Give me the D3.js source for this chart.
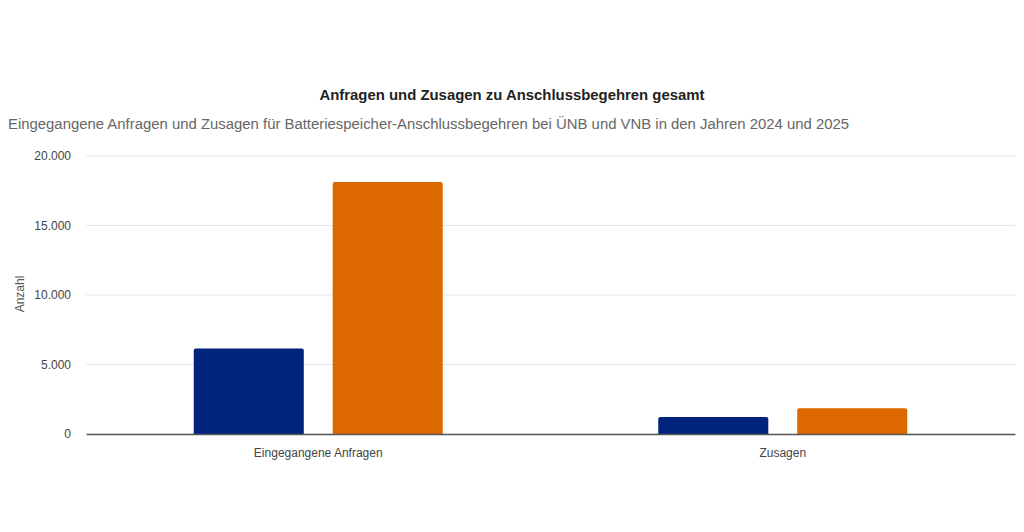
<!doctype html>
<html>
<head>
    <meta charset="UTF-8">
    <title>Anschlussbegehren</title>
    <script src="https://d3js.org/d3.v7.min.js"></script>
    <style>
        body{ margin:0; background:#fff; }
        text{ font-family: Arial, "Liberation Sans", sans-serif; }
    </style>
</head>
<body>
    <div id="chart"></div>

    <script>
        var categories = ["Eingegangene Anfragen", "Zusagen"];
        var years = ["2024", "2025"];
        var values2024 = [6150, 1220];
        var values2025 = [18130, 1850];
        var yTicks = [0, 5000, 10000, 15000, 20000];
        var colors = ["#00247d", "#de6800"];

        var w = 1024, h = 532;
        var m = {left: 86, right: 9, top: 156, bottom: 98};

        var svg = d3.select("#chart").append("svg")
            .attr("width", w)
            .attr("height", h);

        // titles
        svg.append("text")
           .attr("x", 512).attr("y", 100)
           .attr("text-anchor", "middle")
           .style("font-size", "14.9px")
           .style("font-weight", "bold")
           .attr("fill", "#222")
           .text("Anfragen und Zusagen zu Anschlussbegehren gesamt");

        svg.append("text")
           .attr("x", 8).attr("y", 129)
           .style("font-size", "14.9px")
           .attr("fill", "#666")
           .text("Eingegangene Anfragen und Zusagen für Batteriespeicher-Anschlussbegehren bei ÜNB und VNB in den Jahren 2024 und 2025");

        var x = d3.scaleBand()
            .domain(categories)
            .range([m.left, w - m.right]);

        // two bars per group, ~110px wide with ~29px gap, centred in the band
        var groupW = 249;
        var xs = d3.scaleBand()
            .domain(years)
            .range([(x.bandwidth() - groupW) / 2, (x.bandwidth() + groupW) / 2])
            .paddingInner(0.208);

        var y = d3.scaleLinear()
            .domain([0, 20000])
            .range([h - m.bottom, m.top]);

        var fmt = function(d){ return d3.format(",")(d).replace(/,/g, "."); };

        // grid
        svg.append("g").selectAll("line")
           .data(yTicks.slice(1))
           .join("line")
           .attr("x1", m.left).attr("x2", w - m.right)
           .attr("y1", function(d){ return y(d); })
           .attr("y2", function(d){ return y(d); })
           .attr("stroke", "#e6e6e6");

        // y axis labels
        var yAxis = svg.append("g")
           .attr("transform", "translate(" + m.left + ",0)")
           .call(d3.axisLeft(y).tickValues(yTicks).tickFormat(fmt).tickSize(0).tickPadding(15));
        yAxis.select(".domain").remove();
        yAxis.selectAll("text")
             .style("font-size", "12px")
             .style("font-family", "Arial, 'Liberation Sans', sans-serif")
             .attr("fill", "#444");

        svg.append("text")
           .attr("transform", "translate(24,294) rotate(-90)")
           .attr("text-anchor", "middle")
           .style("font-size", "12px")
           .attr("fill", "#555")
           .text("Anzahl");

        // bars
        var series = [values2024, values2025];
        var groups = svg.append("g").selectAll("g")
           .data(categories)
           .join("g")
           .attr("transform", function(d){ return "translate(" + x(d) + ",0)"; });

        groups.selectAll("path")
           .data(function(d, i){
               return years.map(function(yr, j){ return {year: yr, value: series[j][i], j: j}; });
           })
           .join("path")
           .attr("fill", function(d){ return colors[d.j]; })
           .attr("d", function(d){
               var x0 = xs(d.year), x1 = x0 + xs.bandwidth();
               var y0 = y(0), y1 = y(d.value), r = 2;
               return "M" + x0 + "," + y0 +
                      "V" + (y1 + r) +
                      "Q" + x0 + "," + y1 + " " + (x0 + r) + "," + y1 +
                      "H" + (x1 - r) +
                      "Q" + x1 + "," + y1 + " " + x1 + "," + (y1 + r) +
                      "V" + y0 + "Z";
           });

        // x axis
        var xAxis = svg.append("g")
           .attr("transform", "translate(0," + y(0) + ")")
           .call(d3.axisBottom(x).tickSize(0).tickPadding(14));
        xAxis.select(".domain").attr("stroke", "#555").attr("stroke-width", 1.3);
        xAxis.selectAll("text")
             .style("font-size", "12px")
             .style("font-family", "Arial, 'Liberation Sans', sans-serif")
             .attr("fill", "#444");
    </script>
</body>
</html>
